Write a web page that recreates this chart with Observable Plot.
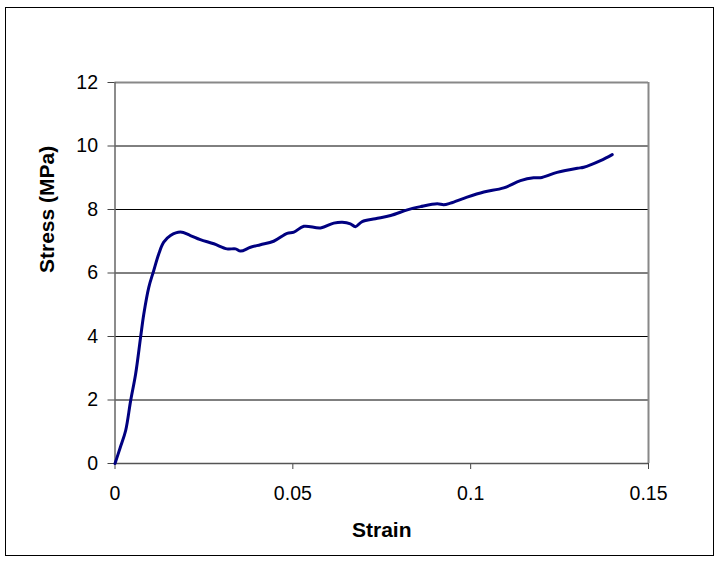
<!DOCTYPE html>
<html>
<head>
<meta charset="utf-8">
<script src="https://cdn.jsdelivr.net/npm/d3@7"></script>
<script src="https://cdn.jsdelivr.net/npm/@observablehq/plot@0.6"></script>
<style>
  html, body { margin: 0; padding: 0; background: #fff; }
  #chart { width: 719px; height: 561px; }
</style>
</head>
<body>
<div id="chart"></div>
<script>
const strain = [0, 0.0015, 0.003, 0.0044, 0.0058, 0.0072, 0.0081, 0.0095, 0.0109, 0.0123, 0.0137, 0.0156, 0.0184, 0.0212, 0.024, 0.0278, 0.0315, 0.0339, 0.0353, 0.0381, 0.0409, 0.0446, 0.0484, 0.0503, 0.0531, 0.0578, 0.0615, 0.0639, 0.0662, 0.0676, 0.0695, 0.0732, 0.0775, 0.0822, 0.0859, 0.0906, 0.0924, 0.0943, 0.099, 0.1037, 0.1093, 0.114, 0.1177, 0.1196, 0.1243, 0.13, 0.1318, 0.1365, 0.1398];
const stress = [0, 0.51, 1.04, 1.98, 2.82, 3.98, 4.71, 5.55, 6.08, 6.6, 6.97, 7.18, 7.29, 7.18, 7.05, 6.92, 6.76, 6.76, 6.69, 6.81, 6.89, 7.0, 7.25, 7.29, 7.47, 7.42, 7.57, 7.6, 7.55, 7.46, 7.62, 7.71, 7.81, 7.99, 8.09, 8.18, 8.15, 8.2, 8.39, 8.55, 8.68, 8.91, 9.0, 9.0, 9.17, 9.3, 9.33, 9.54, 9.73];
const xTicks = [0, 0.05, 0.1, 0.15];
const yTicks = [0, 2, 4, 6, 8, 10, 12];
const gridLines = [2, 4, 6, 8, 10];
const xTitle = "Strain";
const yTitle = "Stress (MPa)";

const data = strain.map((s, i) => ({strain: s, stress: stress[i]}));
const font = "'Liberation Sans', Arial, sans-serif";

const svg = Plot.plot({
  width: 719,
  height: 561,
  marginLeft: 114.5,
  marginRight: 71,
  marginTop: 82,
  marginBottom: 98,
  style: {fontFamily: font, fontSize: "19.5px", color: "#000", background: "#fff", overflow: "visible"},
  x: {domain: [0, 0.15]},
  y: {domain: [0, 12]},
  marks: [
    Plot.ruleY(gridLines, {stroke: "#000", strokeWidth: 1}),
    Plot.ruleY([12], {stroke: "#888", strokeWidth: 2}),
    Plot.ruleX([0.15], {stroke: "#888", strokeWidth: 2}),
    Plot.axisY({ticks: yTicks, tickSize: 7, tickPadding: 10, tickFormat: d => String(d), stroke: "#444", label: null}),
    Plot.axisX({ticks: xTicks, tickSize: 6, tickPadding: 17, tickFormat: d => String(d), stroke: "#444", label: null}),
    Plot.ruleX([0], {stroke: "#666", strokeWidth: 1.5}),
    Plot.ruleY([0], {stroke: "#555", strokeWidth: 1.5}),
    Plot.line(data, {x: "strain", y: "stress", stroke: "#000080", strokeWidth: 3, curve: "catmull-rom"}),
    Plot.text([xTitle], {frameAnchor: "bottom", dy: 73, fontWeight: "bold", fontSize: 21, fill: "#000"}),
    Plot.text([yTitle], {frameAnchor: "left", dx: -68, rotate: -90, fontWeight: "bold", fontSize: 21, fill: "#000"})
  ]
});

d3.select(svg).append("rect")
  .attr("x", 5.5).attr("y", 7.5).attr("width", 708).attr("height", 548)
  .attr("fill", "none").attr("stroke", "#000").attr("stroke-width", 1);

document.getElementById("chart").appendChild(svg);
</script>
</body>
</html>
